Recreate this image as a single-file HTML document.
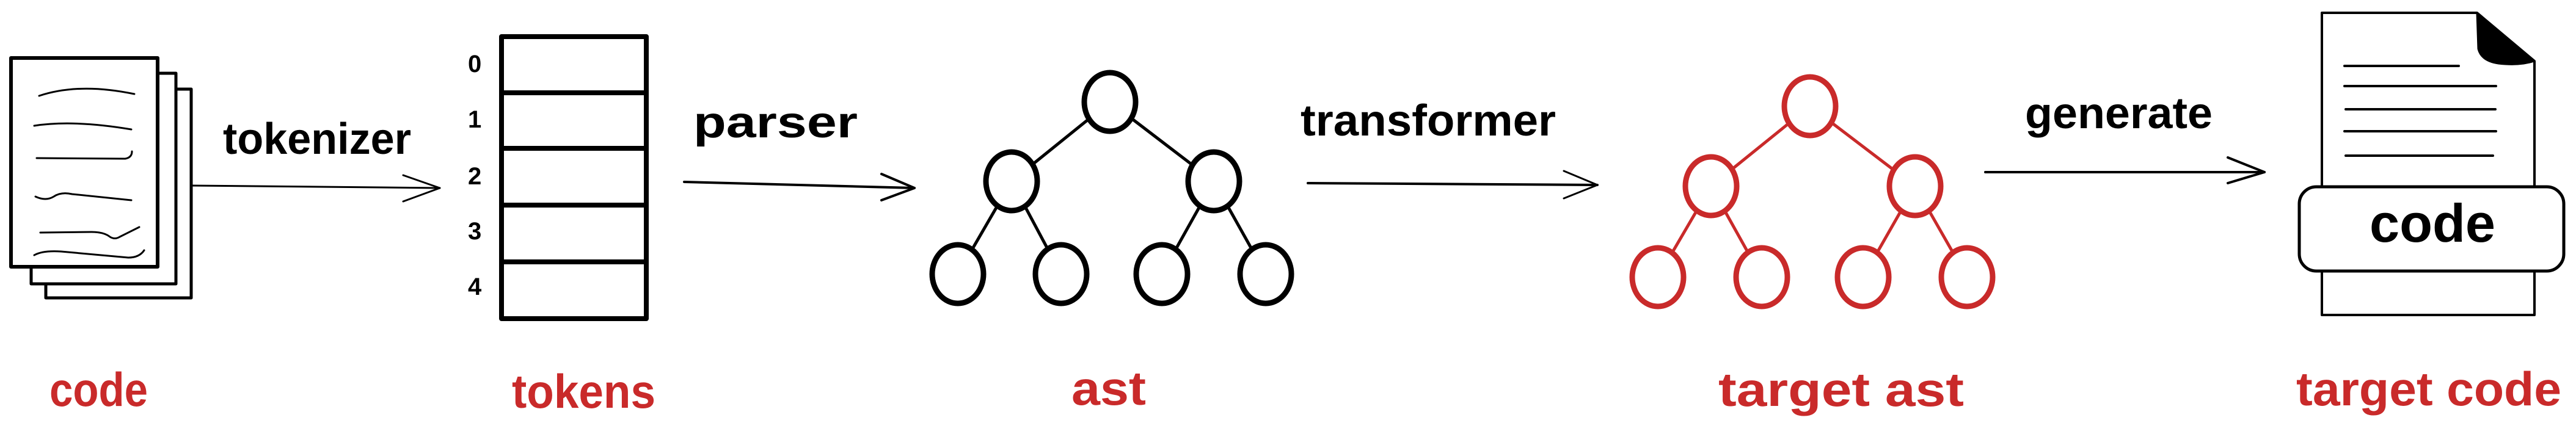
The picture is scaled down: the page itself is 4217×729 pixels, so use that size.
<!DOCTYPE html>
<html><head><meta charset="utf-8"><style>
html,body{margin:0;padding:0;background:#fff;}
svg{display:block}
text{font-family:"Liberation Sans",sans-serif;font-weight:bold;}
</style></head><body>
<svg width="4217" height="729" viewBox="0 0 4217 729" xmlns="http://www.w3.org/2000/svg">
<g fill="none" stroke="#000" stroke-linecap="round" stroke-linejoin="round">
<!-- code pages -->
<rect x="75" y="146" width="238" height="342" stroke-width="5" fill="#fff"/>
<rect x="51" y="120" width="237" height="345" stroke-width="5" fill="#fff"/>
<rect x="18" y="95" width="240" height="342" stroke-width="6" fill="#fff"/>
<g stroke-width="3">
<path d="M64 157 Q130 135 220 154"/>
<path d="M56 206 Q120 196 215 212"/>
<path d="M60 259 L205 260 Q216 258 216 248"/>
<path d="M58 322 Q75 330 88 322 Q100 314 118 318 L215 328"/>
<path d="M66 381 L150 380 Q170 380 180 388 Q188 393 196 388 L228 372"/>
<path d="M56 418 Q70 410 100 412 L210 422 Q228 422 236 410"/>
</g>
<!-- arrow 1 -->
<path d="M313 304 L720 308" stroke-width="3"/>
<path d="M660 287 L720 308 L660 330" stroke-width="3"/>
<!-- tokens -->
<rect x="821" y="60" width="237" height="462" stroke-width="8" fill="#fff"/>
<path d="M821 152 L1058 152 M821 243 L1058 243 M821 336 L1058 336 M821 429 L1058 429" stroke-width="8"/>
<!-- arrow 2 -->
<path d="M1120 298 L1497 308" stroke-width="4"/>
<path d="M1443 285 L1497 308 L1443 328" stroke-width="4"/>
<!-- ast -->
<g stroke-width="5">
<path d="M1817 167 L1656 297 M1817 167 L1987 297 M1656 297 L1568 449 M1656 297 L1737 449 M1987 297 L1902 449 M1987 297 L2072 449"/>
</g>
<g stroke-width="9" fill="#fff">
<ellipse cx="1817" cy="167" rx="42" ry="48"/>
<ellipse cx="1656" cy="297" rx="42" ry="48"/>
<ellipse cx="1987" cy="297" rx="42" ry="48"/>
<ellipse cx="1568" cy="449" rx="42" ry="48"/>
<ellipse cx="1737" cy="449" rx="42" ry="48"/>
<ellipse cx="1902" cy="449" rx="42" ry="48"/>
<ellipse cx="2072" cy="449" rx="42" ry="48"/>
</g>
<!-- arrow 3 -->
<path d="M2141 300 L2615 303" stroke-width="4"/>
<path d="M2560 280 L2615 303 L2560 325" stroke-width="3"/>
<!-- target ast -->
<g stroke="#c92a2a">
<g stroke-width="5">
<path d="M2963 174 L2801 305 M2963 174 L3135 305 M2801 305 L2714 454 M2801 305 L2884 454 M3135 305 L3050 454 M3135 305 L3220 454"/>
</g>
<g stroke-width="9" fill="#fff">
<ellipse cx="2963" cy="174" rx="42" ry="48"/>
<ellipse cx="2801" cy="305" rx="42" ry="48"/>
<ellipse cx="3135" cy="305" rx="42" ry="48"/>
<ellipse cx="2714" cy="454" rx="42" ry="48"/>
<ellipse cx="2884" cy="454" rx="42" ry="48"/>
<ellipse cx="3050" cy="454" rx="42" ry="48"/>
<ellipse cx="3220" cy="454" rx="42" ry="48"/>
</g>
</g>
<!-- arrow 4 -->
<path d="M3250 282 L3707 282" stroke-width="4"/>
<path d="M3647 258 L3707 282 L3647 300" stroke-width="4"/>
<!-- target code doc -->
<path d="M3801 21 L4055 21 L4149 100 L4149 516 L3801 516 Z" stroke-width="4" fill="#fff"/>
<path d="M4055 21 L4057 80 Q4062 100 4090 104 Q4125 108 4149 100 Z" fill="#000" stroke-width="3"/>
<g stroke-width="4">
<path d="M3838 108 L4025 108 M3838 141 L4086 141 M3840 179 L4085 179 M3838 215 L4086 215 M3840 255 L4081 255"/>
</g>
<rect x="3764" y="306" width="433" height="138" rx="28" stroke-width="5" fill="#fff"/>
</g>
<g fill="#000">
<text x="365" y="252" font-size="72" textLength="308" lengthAdjust="spacingAndGlyphs">tokenizer</text>
<text x="1135" y="225" font-size="72" textLength="269" lengthAdjust="spacingAndGlyphs">parser</text>
<text x="2129" y="222" font-size="72" textLength="418" lengthAdjust="spacingAndGlyphs">transformer</text>
<text x="3315" y="210" font-size="72" textLength="307" lengthAdjust="spacingAndGlyphs">generate</text>
<text x="3879" y="396" font-size="88" textLength="206" lengthAdjust="spacingAndGlyphs">code</text>
<g font-size="40">
<text x="766" y="118">0</text>
<text x="766" y="209">1</text>
<text x="766" y="302">2</text>
<text x="766" y="392">3</text>
<text x="766" y="483">4</text>
</g>
</g>
<g fill="#c92a2a">
<text x="81" y="665" font-size="78" textLength="161" lengthAdjust="spacingAndGlyphs">code</text>
<text x="838" y="668" font-size="78" textLength="235" lengthAdjust="spacingAndGlyphs">tokens</text>
<text x="1754" y="663" font-size="78" textLength="122" lengthAdjust="spacingAndGlyphs">ast</text>
<text x="2813" y="665" font-size="78" textLength="402" lengthAdjust="spacingAndGlyphs">target ast</text>
<text x="3759" y="664" font-size="78" textLength="434" lengthAdjust="spacingAndGlyphs">target code</text>
</g>
</svg>
</body></html>
